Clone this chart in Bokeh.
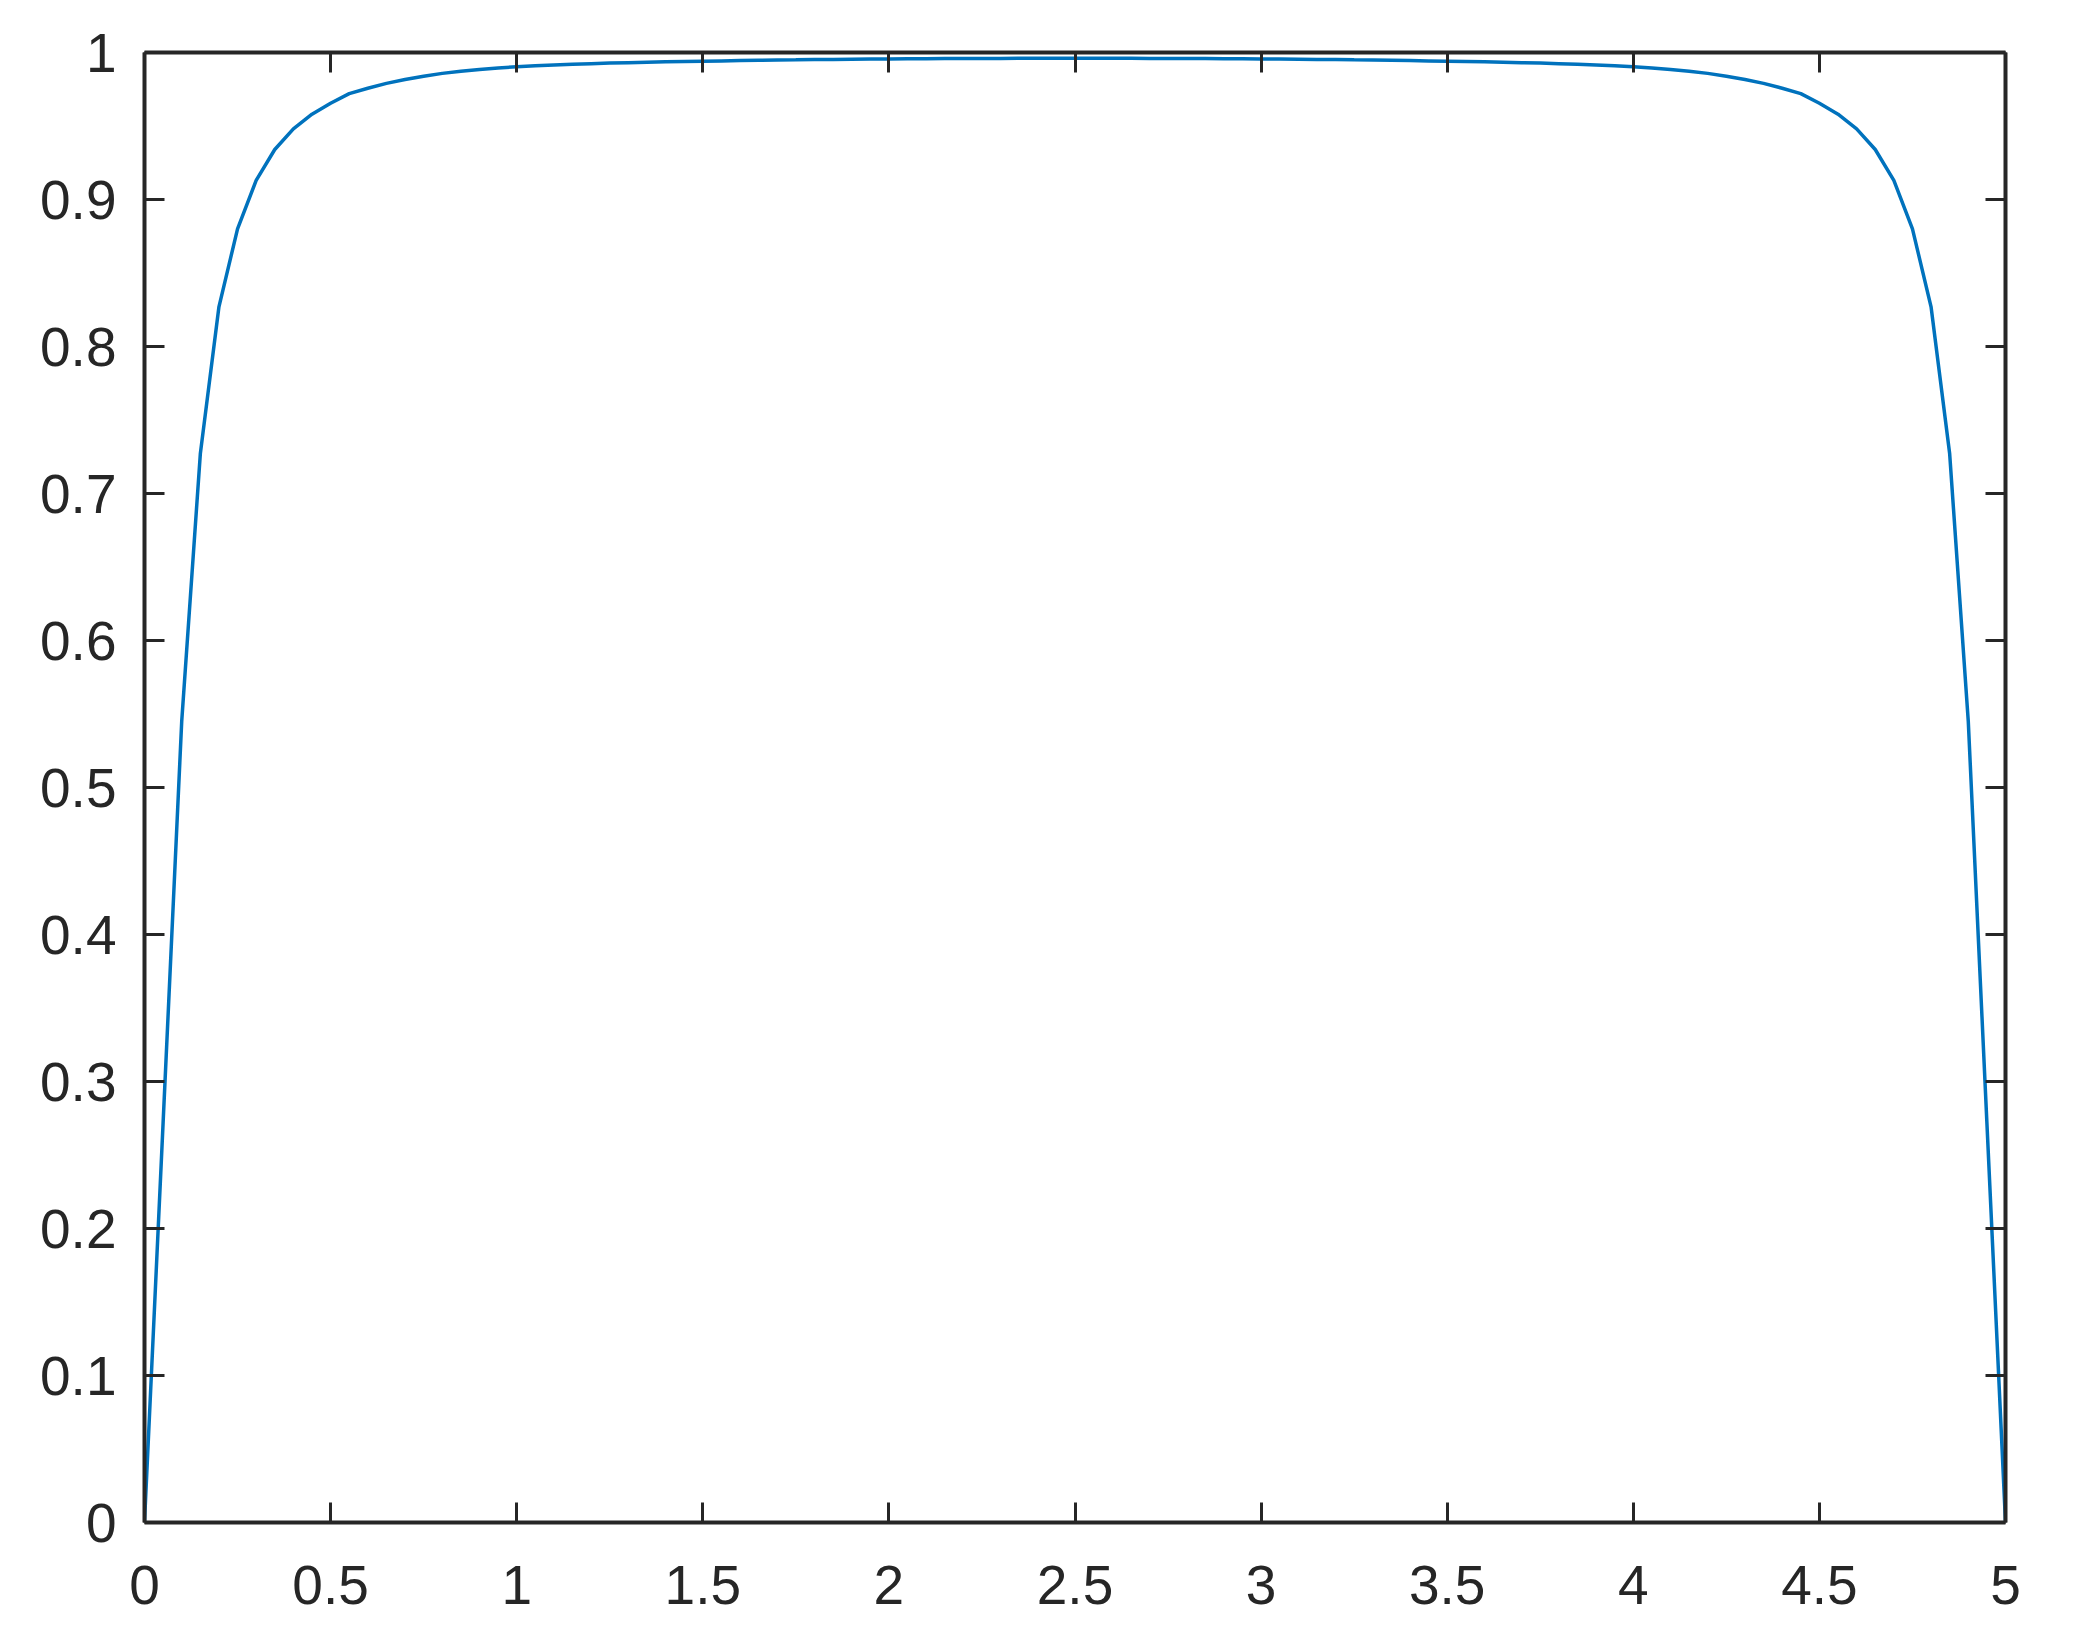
from bokeh.plotting import figure
from bokeh.models import Range1d, LinearAxis, FixedTicker, CustomLabelingPolicy
from bokeh.embed import file_html
from bokeh.resources import INLINE

# ---- data ----
x_values = [
    0.00, 0.05, 0.10, 0.15, 0.20, 0.25, 0.30, 0.35, 0.40, 0.45,
    0.50, 0.55, 0.60, 0.65, 0.70, 0.75, 0.80, 0.85, 0.90, 0.95,
    1.00, 1.05, 1.10, 1.15, 1.20, 1.25, 1.30, 1.35, 1.40, 1.45,
    1.50, 1.55, 1.60, 1.65, 1.70, 1.75, 1.80, 1.85, 1.90, 1.95,
    2.00, 2.05, 2.10, 2.15, 2.20, 2.25, 2.30, 2.35, 2.40, 2.45,
    2.50, 2.55, 2.60, 2.65, 2.70, 2.75, 2.80, 2.85, 2.90, 2.95,
    3.00, 3.05, 3.10, 3.15, 3.20, 3.25, 3.30, 3.35, 3.40, 3.45,
    3.50, 3.55, 3.60, 3.65, 3.70, 3.75, 3.80, 3.85, 3.90, 3.95,
    4.00, 4.05, 4.10, 4.15, 4.20, 4.25, 4.30, 4.35, 4.40, 4.45,
    4.50, 4.55, 4.60, 4.65, 4.70, 4.75, 4.80, 4.85, 4.90, 4.95,
    5.00,
]
y_values = [
    0.000, 0.272, 0.545, 0.727, 0.827, 0.880, 0.913, 0.934, 0.948, 0.958,
    0.9655, 0.972, 0.9757, 0.979, 0.9816, 0.9839, 0.9858, 0.9873, 0.9884, 0.9895,
    0.9903, 0.9910, 0.9915, 0.9920, 0.9924, 0.9928, 0.9931, 0.9934, 0.9937, 0.9939,
    0.9941, 0.9943, 0.9945, 0.9947, 0.9949, 0.9950, 0.9952, 0.9953, 0.9954, 0.9955,
    0.9956, 0.9957, 0.9958, 0.9959, 0.9959, 0.9960, 0.9960, 0.9961, 0.9961, 0.9961,
    0.9961, 0.9961, 0.9961, 0.9961, 0.9960, 0.9960, 0.9959, 0.9959, 0.9958, 0.9957,
    0.9956, 0.9955, 0.9954, 0.9953, 0.9952, 0.9950, 0.9949, 0.9947, 0.9945, 0.9943,
    0.9941, 0.9939, 0.9937, 0.9934, 0.9931, 0.9928, 0.9924, 0.9920, 0.9915, 0.9910,
    0.9903, 0.9895, 0.9884, 0.9873, 0.9858, 0.9839, 0.9816, 0.979, 0.9757, 0.972,
    0.9655, 0.958, 0.948, 0.934, 0.913, 0.880, 0.827, 0.727, 0.545, 0.272,
    0.000,
]

x_ticks = [0, 0.5, 1, 1.5, 2, 2.5, 3, 3.5, 4, 4.5, 5]
x_tick_labels = ["0", "0.5", "1", "1.5", "2", "2.5", "3", "3.5", "4", "4.5", "5"]
y_ticks = [0, 0.1, 0.2, 0.3, 0.4, 0.5, 0.6, 0.7, 0.8, 0.9, 1]
y_tick_labels = ["0", "0.1", "0.2", "0.3", "0.4", "0.5", "0.6", "0.7", "0.8", "0.9", "1"]

# ---- styling ----
AX = "#262626"
LINE = "#0072BD"
FONT = "Liberation Sans"
FSIZE = "55px"

p = figure(width=2057, height=1631, output_backend="svg", toolbar_location=None,
           x_range=Range1d(0, 5), y_range=Range1d(0, 1),
           x_axis_location=None, y_axis_location=None,
           min_border_left=144, min_border_right=52,
           min_border_top=52, min_border_bottom=109)
p.background_fill_color = "white"
p.border_fill_color = "white"
p.outline_line_color = None
p.xgrid.visible = False
p.ygrid.visible = False

hide_all = CustomLabelingPolicy(code="""
    for (const i of indices)
        indices.unset(i)
    return indices
""")

def style_axis(ax, ticks, labels, show_labels):
    ax.ticker = FixedTicker(ticks=ticks)
    ax.axis_line_color = AX
    ax.axis_line_width = 4
    ax.major_tick_line_color = AX
    ax.major_tick_line_width = 3
    ax.major_tick_in = 20
    ax.major_tick_out = 0
    ax.minor_tick_line_color = None
    ax.major_label_overrides = {t: l for t, l in zip(ticks, labels)}
    ax.major_label_text_font = FONT
    ax.major_label_text_color = AX
    if show_labels:
        ax.major_label_text_font_size = FSIZE
    else:
        ax.major_label_text_font_size = "1px"
        ax.major_label_policy = hide_all
        ax.major_label_standoff = 0

xb = LinearAxis()
style_axis(xb, x_ticks, x_tick_labels, True)
xb.major_label_standoff = 43
p.add_layout(xb, "below")

xt = LinearAxis()
style_axis(xt, x_ticks, x_tick_labels, False)
p.add_layout(xt, "above")

yl = LinearAxis()
style_axis(yl, y_ticks, y_tick_labels, True)
yl.major_label_standoff = 28
p.add_layout(yl, "left")

yr = LinearAxis()
style_axis(yr, y_ticks, y_tick_labels, False)
p.add_layout(yr, "right")

p.line(x_values, y_values, line_color=LINE, line_width=3.5)

open("out.html", "w").write(file_html(p, INLINE))
